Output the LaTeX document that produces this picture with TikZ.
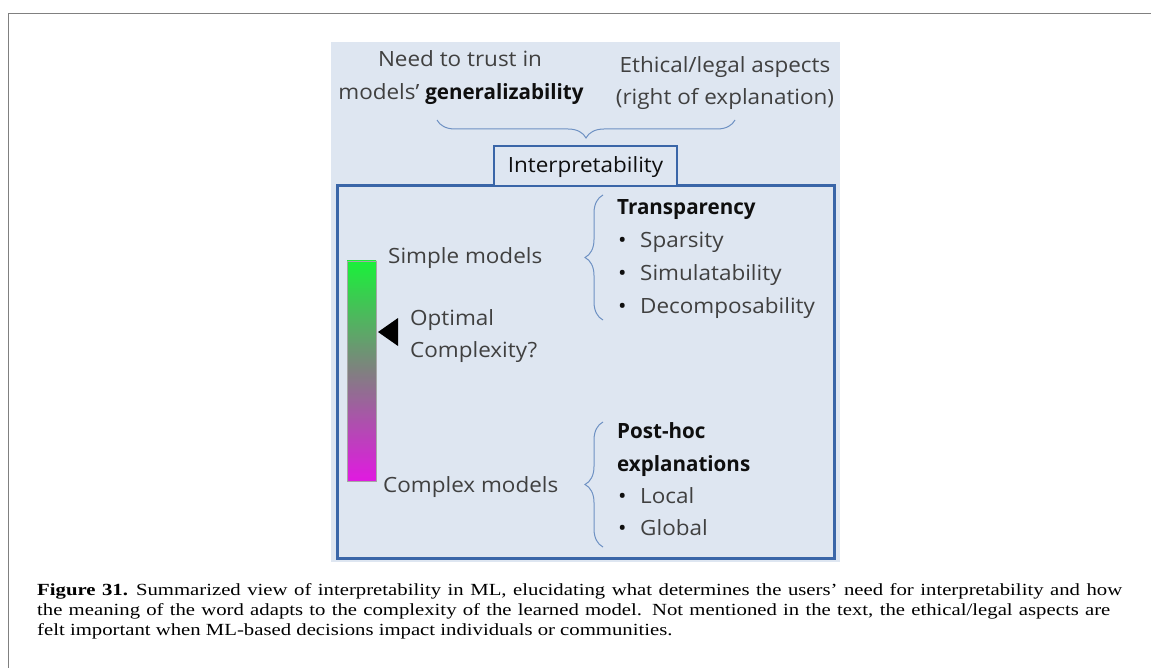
\documentclass[tikz,border=0pt]{standalone}
\usepackage{fontspec}
\setmainfont{Open Sans}[FakeStretch=1.07, BoldFeatures={FakeStretch=0.98}]
\newfontfamily\capfont{Liberation Serif}[FakeStretch=1.22]
\usetikzlibrary{decorations.pathreplacing}
\definecolor{panel}{RGB}{222,230,241}
\definecolor{boxblue}{RGB}{58,102,168}
\definecolor{bracecol}{RGB}{110,145,195}
\definecolor{txt}{RGB}{64,64,64}
\definecolor{head}{RGB}{15,15,15}
\definecolor{framegray}{RGB}{128,128,128}
\definecolor{topgreen}{RGB}{26,240,58}
\definecolor{botmag}{RGB}{225,25,225}
\definecolor{midgray}{RGB}{128,128,128}
\begin{document}
\begin{tikzpicture}[x=1pt,y=-1pt,
  lbl/.style={font=\fontsize{21}{28}\selectfont, text=txt, inner sep=0pt},
  hd/.style={font=\fontsize{21}{28}\selectfont\bfseries, text=head, inner sep=0pt},
  bul/.style={font=\fontsize{21}{28}\selectfont, text=head, inner sep=0pt},
  bracestyle/.style={draw=bracecol, line width=1pt, decorate, decoration={brace, amplitude=18pt}},
  captxt/.style={font=\capfont\fontsize{17}{20}\selectfont, text=black, inner sep=0pt, anchor=base west}]
\useasboundingbox (0,0) rectangle (1151,668);
% outer frame
\draw[framegray, line width=1.5pt] (8.5,668) -- (8.5,13.5) -- (1151,13.5);
% panel
\fill[panel] (331,42) rectangle (840,562);
% top texts
\node[lbl, anchor=base] (need1) at (460,67) {Need to trust in};
\node[lbl, anchor=base] (need2) at (461,100) {models’ {\bfseries\color{head}generalizability}};
\node[lbl, anchor=base] (eth1) at (725,73) {Ethical/legal aspects};
\node[lbl, anchor=base] (eth2) at (725,105) {(right of explanation)};
% top brace
\coordinate (tbR) at (735,120);
\coordinate (tbL) at (437,120);
\draw[bracestyle] (tbR) -- (tbL);
% main box
\draw[boxblue, line width=3pt] (337,186) rectangle (834,558);
\node[draw=boxblue, line width=2.5pt, fill=panel, minimum width=183pt, minimum height=40pt,
  text height=18pt, text depth=4pt, inner sep=0pt, font=\fontsize{21}{28}\selectfont, text=head]
  (interp) at (585.5,166) {Interpretability};
% gradient bar
\shade[top color=topgreen, bottom color=botmag, middle color=midgray] (347,261) rectangle (376,481);
\draw[black!35, line width=0.6pt] (347,261) rectangle (376,481);
% triangle
\fill[black] (378,332) -- (398,318) -- (398,346) -- cycle;
% left labels
\node[lbl, anchor=base west] (simple) at (388,264) {Simple models};
\node[lbl, anchor=base west] (opt1) at (410,325) {Optimal};
\node[lbl, anchor=base west] (opt2) at (410,357) {Complexity?};
\node[lbl, anchor=base west] (complex) at (383,492) {Complex models};
% transparency
\coordinate (b1a) at (603,320);
\coordinate (b1b) at (603,195);
\draw[bracestyle] (b1a) -- (b1b);
\node[hd, anchor=base west] (transp) at (617,215) {Transparency};
\node[bul, anchor=base west] (bu1) at (618,248) {\textbullet};
\node[lbl, anchor=base west] (spars) at (640,248) {Sparsity};
\node[bul, anchor=base west] (bu2) at (618,280) {\textbullet};
\node[lbl, anchor=base west] (simul) at (640,280) {Simulatability};
\node[bul, anchor=base west] (bu3) at (618,313) {\textbullet};
\node[lbl, anchor=base west] (decomp) at (640,313) {Decomposability};
% post-hoc
\coordinate (b2a) at (603,547);
\coordinate (b2b) at (603,422);
\draw[bracestyle] (b2a) -- (b2b);
\node[hd, anchor=base west] (post1) at (617,438) {Post-hoc};
\node[hd, anchor=base west] (post2) at (617,471) {explanations};
\node[bul, anchor=base west] (bu4) at (618,503) {\textbullet};
\node[lbl, anchor=base west] (local) at (640,503) {Local};
\node[bul, anchor=base west] (bu5) at (618,535) {\textbullet};
\node[lbl, anchor=base west] (global) at (640,535) {Global};
% caption
\node[captxt] (c1) at (37,595) {\makebox[1085pt][s]{\bfseries Figure 31.\hspace{8pt}\mdseries Summarized view of interpretability in ML, elucidating what determines the users’ need for interpretability and how}};
\node[captxt] (c2) at (37,615) {\makebox[1073pt][s]{the meaning of the word adapts to the complexity of the learned model. Not mentioned in the text, the ethical/legal aspects are}};
\node[captxt] (c3) at (37,635) {felt important when ML-based decisions impact individuals or communities.};
\end{tikzpicture}
\end{document}
